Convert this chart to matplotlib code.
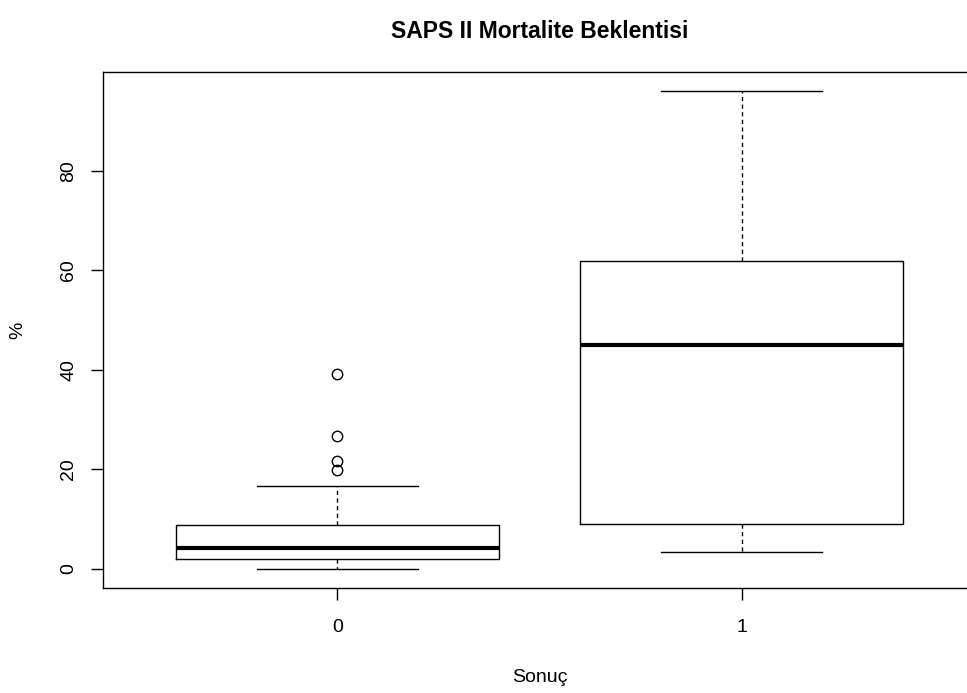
import matplotlib.pyplot as plt

plt.rcParams['font.family'] = ['Liberation Sans', 'DejaVu Sans']

# Boxplot statistics (Sonuç groups 0 and 1)
groups = ['0', '1']
lower_whisker = [0.0, 3.4]
q1 = [2.0, 9.0]
medians = [4.2, 45.0]
q3 = [8.8, 61.9]
upper_whisker = [16.7, 96.1]
outliers = [[39.2, 26.7, 21.7, 19.9], []]

stats = []
for i in range(len(groups)):
    stats.append({'label': groups[i], 'whislo': lower_whisker[i], 'q1': q1[i],
                  'med': medians[i], 'q3': q3[i], 'whishi': upper_whisker[i],
                  'fliers': outliers[i]})

fig = plt.figure(figsize=(9.67, 6.93), dpi=100)
ax = fig.add_axes([103 / 967, 1 - 588 / 693, (976 - 103) / 967, (588 - 72) / 693])

lw = 1.0
ax.bxp(stats, positions=[1, 2], widths=0.8, showfliers=True,
       boxprops=dict(color='black', linewidth=lw),
       whiskerprops=dict(color='black', linewidth=lw, linestyle=(0, (3, 2.5))),
       capprops=dict(color='black', linewidth=lw),
       medianprops=dict(color='black', linewidth=3.0, solid_capstyle='butt'),
       flierprops=dict(marker='o', markerfacecolor='none', markeredgecolor='black',
                       markersize=7.5, markeredgewidth=1.0),
       capwidths=0.4)

ax.set_xlim(0.42, 2.58)
ax.set_ylim(-3.84, 99.9)
ax.set_yticks([0, 20, 40, 60, 80])
ax.set_xticks([1, 2])
ax.set_xticklabels(groups)
for lbl in ax.get_yticklabels():
    lbl.set_rotation(90)
    lbl.set_va('center')
ax.tick_params(axis='both', length=8.5, width=lw, labelsize=14, color='black')
ax.tick_params(axis='y', pad=10)
ax.tick_params(axis='x', pad=14)
for sp in ax.spines.values():
    sp.set_linewidth(lw)

fig.text((103 + 976) / 2 / 967, 1 - 32 / 693, 'SAPS II Mortalite Beklentisi',
         ha='center', va='center', fontsize=16.5, fontweight='bold')
fig.text((103 + 976) / 2 / 967, 1 - 677 / 693, 'Sonuç', ha='center', va='center', fontsize=14)
fig.text(18 / 967, 1 - 330 / 693, '%', ha='center', va='center', fontsize=14, rotation=90)

fig.savefig('out.png', dpi=100)
